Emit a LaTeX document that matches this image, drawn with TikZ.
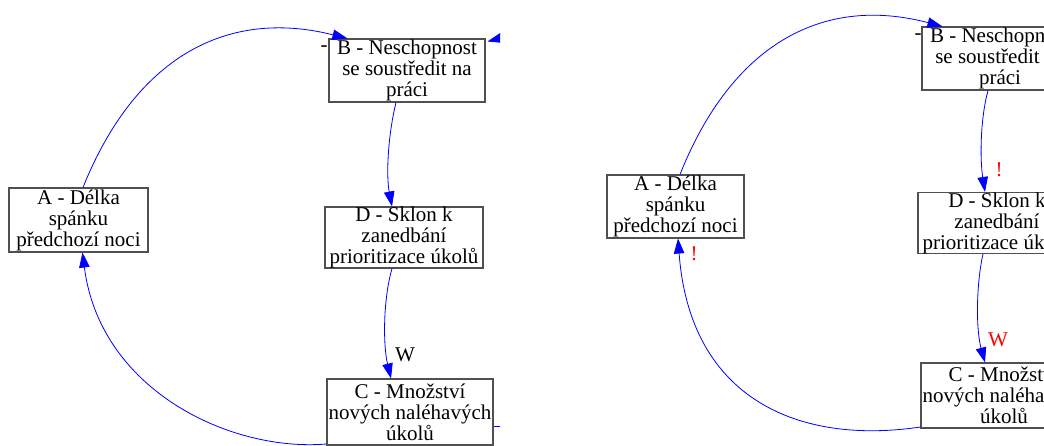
\documentclass[tikz,border=0pt]{standalone}
\usepackage{fontspec}
\setmainfont{Liberation Serif}
\usetikzlibrary{arrows.meta,calc}
\definecolor{boxline}{RGB}{80,80,80}
\definecolor{linkblue}{RGB}{0,0,255}
\definecolor{markred}{RGB}{255,0,0}
\begin{document}
\begin{tikzpicture}[x=1pt,y=-1pt,
  box/.style={draw=boxline, line width=1.1pt, fill=white, rectangle, inner sep=0pt,
    align=center, text=black, font=\fontsize{21}{21}\selectfont},
  link/.style={draw=linkblue, line width=0.8pt,
    -{Triangle[length=15pt,width=10.5pt,fill=linkblue]}},
  stub/.style={draw=linkblue, line width=0.8pt},
  lbl/.style={inner sep=0pt, font=\fontsize{21}{21}\selectfont},
  redlbl/.style={lbl, text=markred},
]
\fill[white] (0,0) rectangle (1044,446);
\useasboundingbox (0,0) rectangle (1044,446);

% ---------- left loop ----------
\begin{scope}
\clip (0,0) rectangle (500,446);
\node[box, minimum width=139pt, minimum height=64pt] (lA) at (78.5,220)
  {A - Délka\\spánku\\předchozí noci};
\node[box, minimum width=156pt, minimum height=63pt] (lB) at (407,70.5)
  {B - Neschopnost\\se soustředit na\\práci};
\node[box, minimum width=158pt, minimum height=61pt] (lD) at (404,237.5)
  {D - Sklon k\\zanedbání\\prioritizace úkolů};
\node[box, minimum width=166pt, minimum height=66pt] (lC) at (410,412)
  {C - Množství\\nových naléhavých\\úkolů};
\node[lbl] (lBmark) at (324,49) {-};
\node[lbl] (lW) at (405,355) {W};

\draw[link] ($(lA.north)+(4.5,0)$) .. controls (135,58) and (226,8) .. ($(lB.north west)+(19,0)$);
\draw[link] ($(lC.west)+(0,32)$) .. controls (230,452) and (100,390) .. ($(lA.south)+(4,0)$);
\draw[link] ($(lB.south)+(-11,0)$) .. controls (388,135) and (386,175) .. ($(lD.north)+(-12,0)$);
\draw[link] ($(lD.south)+(-12,0)$) .. controls (383,300) and (383,345) .. ($(lC.north)+(-19,0)$);

\coordinate (lOut) at (525,32);
\draw[link] (lOut) -- ($(lB.north east)+(2,3)$);
\coordinate (lOut2) at (520,426);
\draw[stub] ($(lC.east)+(0,14)$) -- (lOut2);
\end{scope}

% ---------- right loop ----------
\begin{scope}
\clip (560,0) rectangle (1044,446);
\node[box, minimum width=137pt, minimum height=63pt] (rA) at (675.5,206.5)
  {A - Délka\\spánku\\předchozí noci};
\node[box, minimum width=156pt, minimum height=63pt] (rB) at (1000,58.5)
  {B - Neschopnost\\se soustředit na\\práci};
\node[box, minimum width=158pt, minimum height=60pt] (rD) at (997,223)
  {D - Sklon k\\zanedbání\\prioritizace úkolů};
\node[box, minimum width=166pt, minimum height=65pt] (rC) at (1004,395.5)
  {C - Množství\\nových naléhavých\\úkolů};
\node[lbl] (rBmark) at (918,37) {-};
\node[redlbl] (rAmark) at (694,254) {!};
\node[redlbl] (rDmark) at (999,170) {!};
\node[redlbl] (rW) at (998,340) {W};

\draw[link] ($(rA.north)+(4.5,0)$) .. controls (732,44) and (823,-5) .. ($(rB.north west)+(21,0)$);
\draw[link] ($(rC.west)+(0,31.5)$) .. controls (800,445) and (690,400) .. ($(rA.south)+(2.5,0)$);
\draw[link] ($(rB.south)+(-12,0)$) .. controls (980,120) and (980,160) .. ($(rD.north)+(-12,0)$);
\draw[link] ($(rD.south)+(-14,0)$) .. controls (976,285) and (976,330) .. ($(rC.north)+(-19,0)$);
\end{scope}
\end{tikzpicture}
\end{document}
